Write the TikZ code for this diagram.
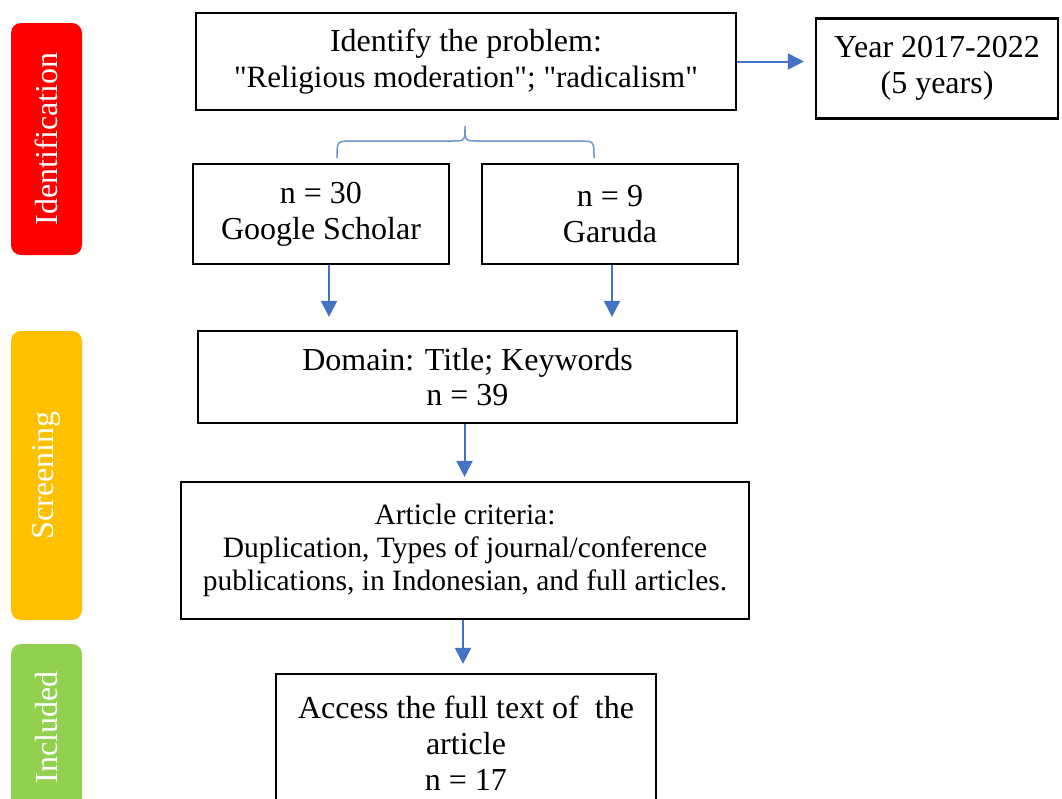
\documentclass[tikz,border=0pt]{standalone}
\usepackage{fontspec}
\setmainfont{Liberation Serif}[Ligatures=TeXOff]
\usetikzlibrary{arrows.meta}
\definecolor{idred}{HTML}{FF0000}
\definecolor{scrorange}{HTML}{FFC000}
\definecolor{incgreen}{HTML}{92D050}
\definecolor{arrblue}{HTML}{4472C4}
\definecolor{braceblue}{HTML}{6F94CF}
\begin{document}
\begin{tikzpicture}[x=1pt,y=-1pt,
 box/.style={draw=black, line width=2.2pt, align=center, inner sep=0pt, font=\fontsize{32}{36}\selectfont},
 phasebar/.style={rounded corners=10pt, inner sep=0pt, text=white, rotate=90, font=\fontsize{32}{36}\selectfont},
 flow/.style={draw=arrblue, line width=2pt, -{Triangle[width=16pt,length=16pt]}},
 bracestyle/.style={draw=braceblue, line width=1.5pt}
 ]
\clip (0,0) rectangle (1062,798);
\fill[white] (0,0) rectangle (1062,798);

% phase bars
\node[phasebar, fill=idred, minimum width=232pt, minimum height=71pt] (pid) at (46.5,139) {Identification};
\node[phasebar, fill=scrorange, minimum width=289pt, minimum height=71pt] (pscr) at (46.5,475.5) {Screening};
\node[phasebar, fill=incgreen, minimum width=167pt, minimum height=71pt] (pinc) at (46.5,727.5) {Included};

% boxes
\node[box, minimum width=540pt, minimum height=97pt] (id) at (466,61.5) {Identify the problem:\\{\fontsize{31}{36}\selectfont "Religious moderation"; "radicalism"}};
\node[box, minimum width=242pt, minimum height=100pt] (year) at (937,68.5) {Year 2017-2022\\(5 years)};
\node[box, minimum width=256pt, minimum height=100pt] (gs) at (321,214) {n = 30\\Google Scholar};
\node[box, minimum width=256pt, minimum height=100pt] (gar) at (610,214) {n = 9\\Garuda};
\node[box, minimum width=539pt, minimum height=92pt, font=\fontsize{32}{35}\selectfont] (dom) at (467.5,377) {Domain: Title; Keywords\\n = 39};
\node[box, minimum width=568pt, minimum height=137pt, font=\fontsize{29.5}{33}\selectfont] (art) at (465,550.5) {Article criteria:\\Duplication, Types of journal/conference\\publications, in Indonesian, and full articles.};
\node[box, minimum width=380pt, minimum height=138pt] (acc) at (466,743) {Access the full text of\ \ the\\article\\n = 17};

% brace
\draw[bracestyle] (337,158) .. controls (337,141) .. (352,141) -- (452,141) .. controls (465,141) .. (465,126) .. controls (465,141) .. (478,141) -- (579,141) .. controls (594,141) .. (594,158);

% arrows
\draw[flow, shorten >=11pt] (id.east) -- (year.west |- id.east);
\draw[flow, shorten >=13pt] ([xshift=8pt]gs.south) -- ([xshift=8pt]gs.south |- dom.north);
\draw[flow, shorten >=13pt] ([xshift=2pt]gar.south) -- ([xshift=2pt]gar.south |- dom.north);
\draw[flow, shorten >=4pt] ([xshift=-3pt]dom.south) -- ([xshift=-3pt]dom.south |- art.north);
\draw[flow, shorten >=9pt] ([xshift=-2pt]art.south) -- ([xshift=-2pt]art.south |- acc.north);
\end{tikzpicture}
\end{document}
